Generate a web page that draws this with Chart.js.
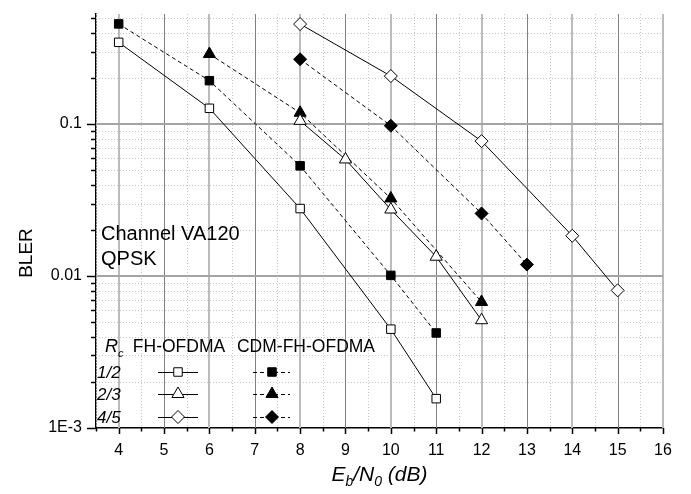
<!DOCTYPE html>
<html>
<head>
<meta charset="utf-8">
<script src="https://cdn.jsdelivr.net/npm/chart.js@4.4.0/dist/chart.umd.min.js"></script>
<style>
  html, body { margin: 0; padding: 0; background: #fff; }
  #wrap { width: 691px; height: 494px; }
</style>
</head>
<body>
<div id="wrap"><canvas id="bler-chart"></canvas></div>
<script>
// BLER vs Eb/N0, channel VA120, QPSK
const xFh12 = [4, 6, 8, 10, 11];
const fh12 = [0.345, 0.127, 0.0278, 0.00447, 0.00156];
const xCdm12 = [4, 6, 8, 10, 11];
const cdm12 = [0.456, 0.193, 0.0531, 0.0101, 0.00422];

const xFh23 = [8, 9, 10, 11, 12];
const fh23 = [0.105, 0.0585, 0.0274, 0.0134, 0.00512];
const xCdm23 = [6, 8, 10, 12];
const cdm23 = [0.289, 0.1187, 0.0324, 0.00675];

const xFh45 = [8, 10, 12, 14, 15];
const fh45 = [0.455, 0.207, 0.0772, 0.0184, 0.00805];
const xCdm45 = [8, 10, 12, 13];
const cdm45 = [0.267, 0.0975, 0.0258, 0.0119];

const xTicks = [4, 5, 6, 7, 8, 9, 10, 11, 12, 13, 14, 15, 16];
const yTicks = [0.001, 0.01, 0.1];
const yTickLabels = ['1E-3', '0.01', '0.1'];
const rateLabels = ['1/2', '2/3', '4/5'];
const rateStyles = ['rect', 'triangle', 'rectRot'];
const rateRadius = [6, 7, 6.5];

const FONT = '"Liberation Sans", Arial, sans-serif';
Chart.defaults.font.family = FONT;
Chart.defaults.color = '#000';

function series(label, xs, ys, style, radius, filled, dashed) {
    return {
        label: label,
        data: xs.map((x, i) => ({ x: x, y: ys[i] })),
        borderColor: '#000',
        borderWidth: 1,
        borderDash: dashed ? [4, 3] : [],
        pointStyle: style,
        pointRadius: radius,
        pointBackgroundColor: filled ? '#000' : '#fff',
        pointBorderColor: '#000',
        pointBorderWidth: 1,
        fill: false,
        tension: 0
    };
}

function drawMarker(ctx, style, radius, filled, x, y) {
    ctx.save();
    ctx.fillStyle = filled ? '#000' : '#fff';
    ctx.strokeStyle = '#000';
    ctx.lineWidth = 1;
    ctx.setLineDash([]);
    Chart.helpers.drawPoint(ctx, { pointStyle: style, radius: radius, rotation: 0, borderWidth: 1 }, x, y);
    ctx.restore();
}

const decor = {
    id: 'decor',
    beforeDatasetsDraw(chart) {
        const { ctx, chartArea: a, scales: { x, y } } = chart;
        ctx.save();
        // minor dotted grid
        ctx.setLineDash([1, 2]);
        ctx.strokeStyle = '#c6c6c6';
        ctx.lineWidth = 1;
        for (let v = x.min; v <= x.max; v += 0.5) {
            if (Number.isInteger(v)) continue;
            const px = Math.round(x.getPixelForValue(v)) + 0.5;
            ctx.beginPath(); ctx.moveTo(px, a.top); ctx.lineTo(px, a.bottom); ctx.stroke();
        }
        yTicks.forEach(dec => {
            for (let m = 2; m <= 9; m++) {
                const v = dec * m;
                if (v > y.max) break;
                const py = Math.round(y.getPixelForValue(v)) + 0.5;
                ctx.beginPath(); ctx.moveTo(a.left, py); ctx.lineTo(a.right, py); ctx.stroke();
            }
        });
        ctx.setLineDash([]);
        // major grid
        xTicks.forEach(v => {
            const px = Math.round(x.getPixelForValue(v));
            const even = v % 2 === 0;
            ctx.strokeStyle = even ? '#bcbcbc' : '#808080';
            ctx.lineWidth = even ? 2 : 1;
            const off = even ? 0 : 0.5;
            ctx.beginPath(); ctx.moveTo(px + off, a.top); ctx.lineTo(px + off, a.bottom); ctx.stroke();
        });
        ctx.strokeStyle = '#a4a4a4';
        ctx.lineWidth = 2;
        yTicks.forEach(v => {
            if (v <= y.min) return;
            const py = Math.round(y.getPixelForValue(v));
            ctx.beginPath(); ctx.moveTo(a.left, py); ctx.lineTo(a.right, py); ctx.stroke();
        });
        ctx.restore();
    },
    afterDraw(chart) {
        const { ctx, chartArea: a, scales: { x, y } } = chart;
        ctx.save();
        // tick marks
        ctx.strokeStyle = '#000';
        ctx.lineWidth = 1.5;
        for (let v = x.min; v <= x.max; v += 0.5) {
            const px = Math.round(x.getPixelForValue(v)) + 0.5;
            const len = Number.isInteger(v) ? 6 : 3.5;
            ctx.beginPath(); ctx.moveTo(px, a.bottom); ctx.lineTo(px, a.bottom + len); ctx.stroke();
        }
        yTicks.forEach(dec => {
            const py0 = Math.round(y.getPixelForValue(dec)) + 0.5;
            ctx.beginPath(); ctx.moveTo(a.left - 9, py0); ctx.lineTo(a.left, py0); ctx.stroke();
            for (let m = 2; m <= 9; m++) {
                const v = dec * m;
                if (v > y.max) break;
                const py = Math.round(y.getPixelForValue(v)) + 0.5;
                ctx.beginPath(); ctx.moveTo(a.left - 5, py); ctx.lineTo(a.left, py); ctx.stroke();
            }
        });

        ctx.fillStyle = '#000';
        ctx.textBaseline = 'alphabetic';

        // x title: Eb/N0 (dB)
        const parts = [
            { t: 'E', f: 'italic 21px ' + FONT, dy: 0 },
            { t: 'b', f: 'italic 14px ' + FONT, dy: 5 },
            { t: '/N', f: 'italic 21px ' + FONT, dy: 0 },
            { t: '0', f: 'italic 14px ' + FONT, dy: 5 },
            { t: ' (dB)', f: 'italic 21px ' + FONT, dy: 0 }
        ];
        let total = 0;
        parts.forEach(p => { ctx.font = p.f; p.w = ctx.measureText(p.t).width; total += p.w; });
        let cx = (a.left + a.right) / 2 - total / 2;
        ctx.textAlign = 'left';
        parts.forEach(p => { ctx.font = p.f; ctx.fillText(p.t, cx, 481 + p.dy); cx += p.w; });

        // y title
        ctx.save();
        ctx.translate(32, 253);
        ctx.rotate(-Math.PI / 2);
        ctx.font = '19px ' + FONT;
        ctx.textAlign = 'center';
        ctx.fillText('BLER', 0, 0);
        ctx.restore();

        // annotation
        ctx.font = '20px ' + FONT;
        ctx.textAlign = 'left';
        ctx.fillText('Channel VA120', 101, 240);
        ctx.fillText('QPSK', 101, 265);

        // legend table
        ctx.font = 'italic 18px ' + FONT;
        ctx.fillText('R', 105, 352);
        ctx.font = 'italic 11px ' + FONT;
        ctx.fillText('c', 118, 357);
        ctx.font = '17.5px ' + FONT;
        ctx.textAlign = 'center';
        ctx.fillText('FH-OFDMA', 179, 352);
        ctx.fillText('CDM-FH-OFDMA', 306, 352);

        const rowY = [372, 394, 417];
        rateLabels.forEach((lab, i) => {
            const ry = rowY[i];
            ctx.font = 'italic 17px ' + FONT;
            ctx.textAlign = 'left';
            ctx.fillStyle = '#000';
            ctx.fillText(lab, 97, ry + 6);
            ctx.strokeStyle = '#000';
            ctx.lineWidth = 1;
            ctx.setLineDash([]);
            ctx.beginPath(); ctx.moveTo(158, ry + 0.5); ctx.lineTo(198, ry + 0.5); ctx.stroke();
            drawMarker(ctx, rateStyles[i], rateRadius[i], false, 178, ry);
            ctx.setLineDash([4, 3]);
            ctx.beginPath(); ctx.moveTo(253, ry + 0.5); ctx.lineTo(290, ry + 0.5); ctx.stroke();
            ctx.setLineDash([]);
            drawMarker(ctx, rateStyles[i], rateRadius[i], true, 272, ry);
        });
        ctx.restore();
    }
};

new Chart(document.getElementById('bler-chart'), {
    type: 'line',
    data: {
        datasets: [
            series('FH-OFDMA 1/2', xFh12, fh12, 'rect', 6, false, false),
            series('CDM-FH-OFDMA 1/2', xCdm12, cdm12, 'rect', 6, true, true),
            series('FH-OFDMA 2/3', xFh23, fh23, 'triangle', 7, false, false),
            series('CDM-FH-OFDMA 2/3', xCdm23, cdm23, 'triangle', 7, true, true),
            series('FH-OFDMA 4/5', xFh45, fh45, 'rectRot', 6.5, false, false),
            series('CDM-FH-OFDMA 4/5', xCdm45, cdm45, 'rectRot', 6.5, true, true)
        ]
    },
    options: {
        responsive: true,
        maintainAspectRatio: false,
        animation: false,
        layout: { padding: { left: 0, right: 28, top: 14, bottom: 0 } },
        plugins: { legend: { display: false }, tooltip: { enabled: false } },
        scales: {
            x: {
                type: 'linear',
                min: 3.5,
                max: 16,
                afterBuildTicks: s => { s.ticks = xTicks.map(v => ({ value: v })); },
                afterFit: s => { s.height = 66; s.paddingLeft = 0; s.paddingRight = 0; },
                grid: { display: false, drawTicks: false },
                border: { display: true, color: '#000', width: 1.5 },
                ticks: {
                    autoSkip: false, maxRotation: 0, padding: 13,
                    font: { size: 16 },
                    callback: v => String(v)
                }
            },
            y: {
                type: 'logarithmic',
                min: 0.001,
                max: 0.53,
                afterBuildTicks: s => { s.ticks = yTicks.map(v => ({ value: v })); },
                afterFit: s => { s.width = 96; s.paddingTop = 0; s.paddingBottom = 0; },
                grid: { display: false, drawTicks: false },
                border: { display: true, color: '#000', width: 1.5 },
                ticks: {
                    padding: 14,
                    font: { size: 16 },
                    callback: v => yTickLabels[yTicks.indexOf(v)]
                }
            }
        }
    },
    plugins: [decor]
});
</script>
</body>
</html>
